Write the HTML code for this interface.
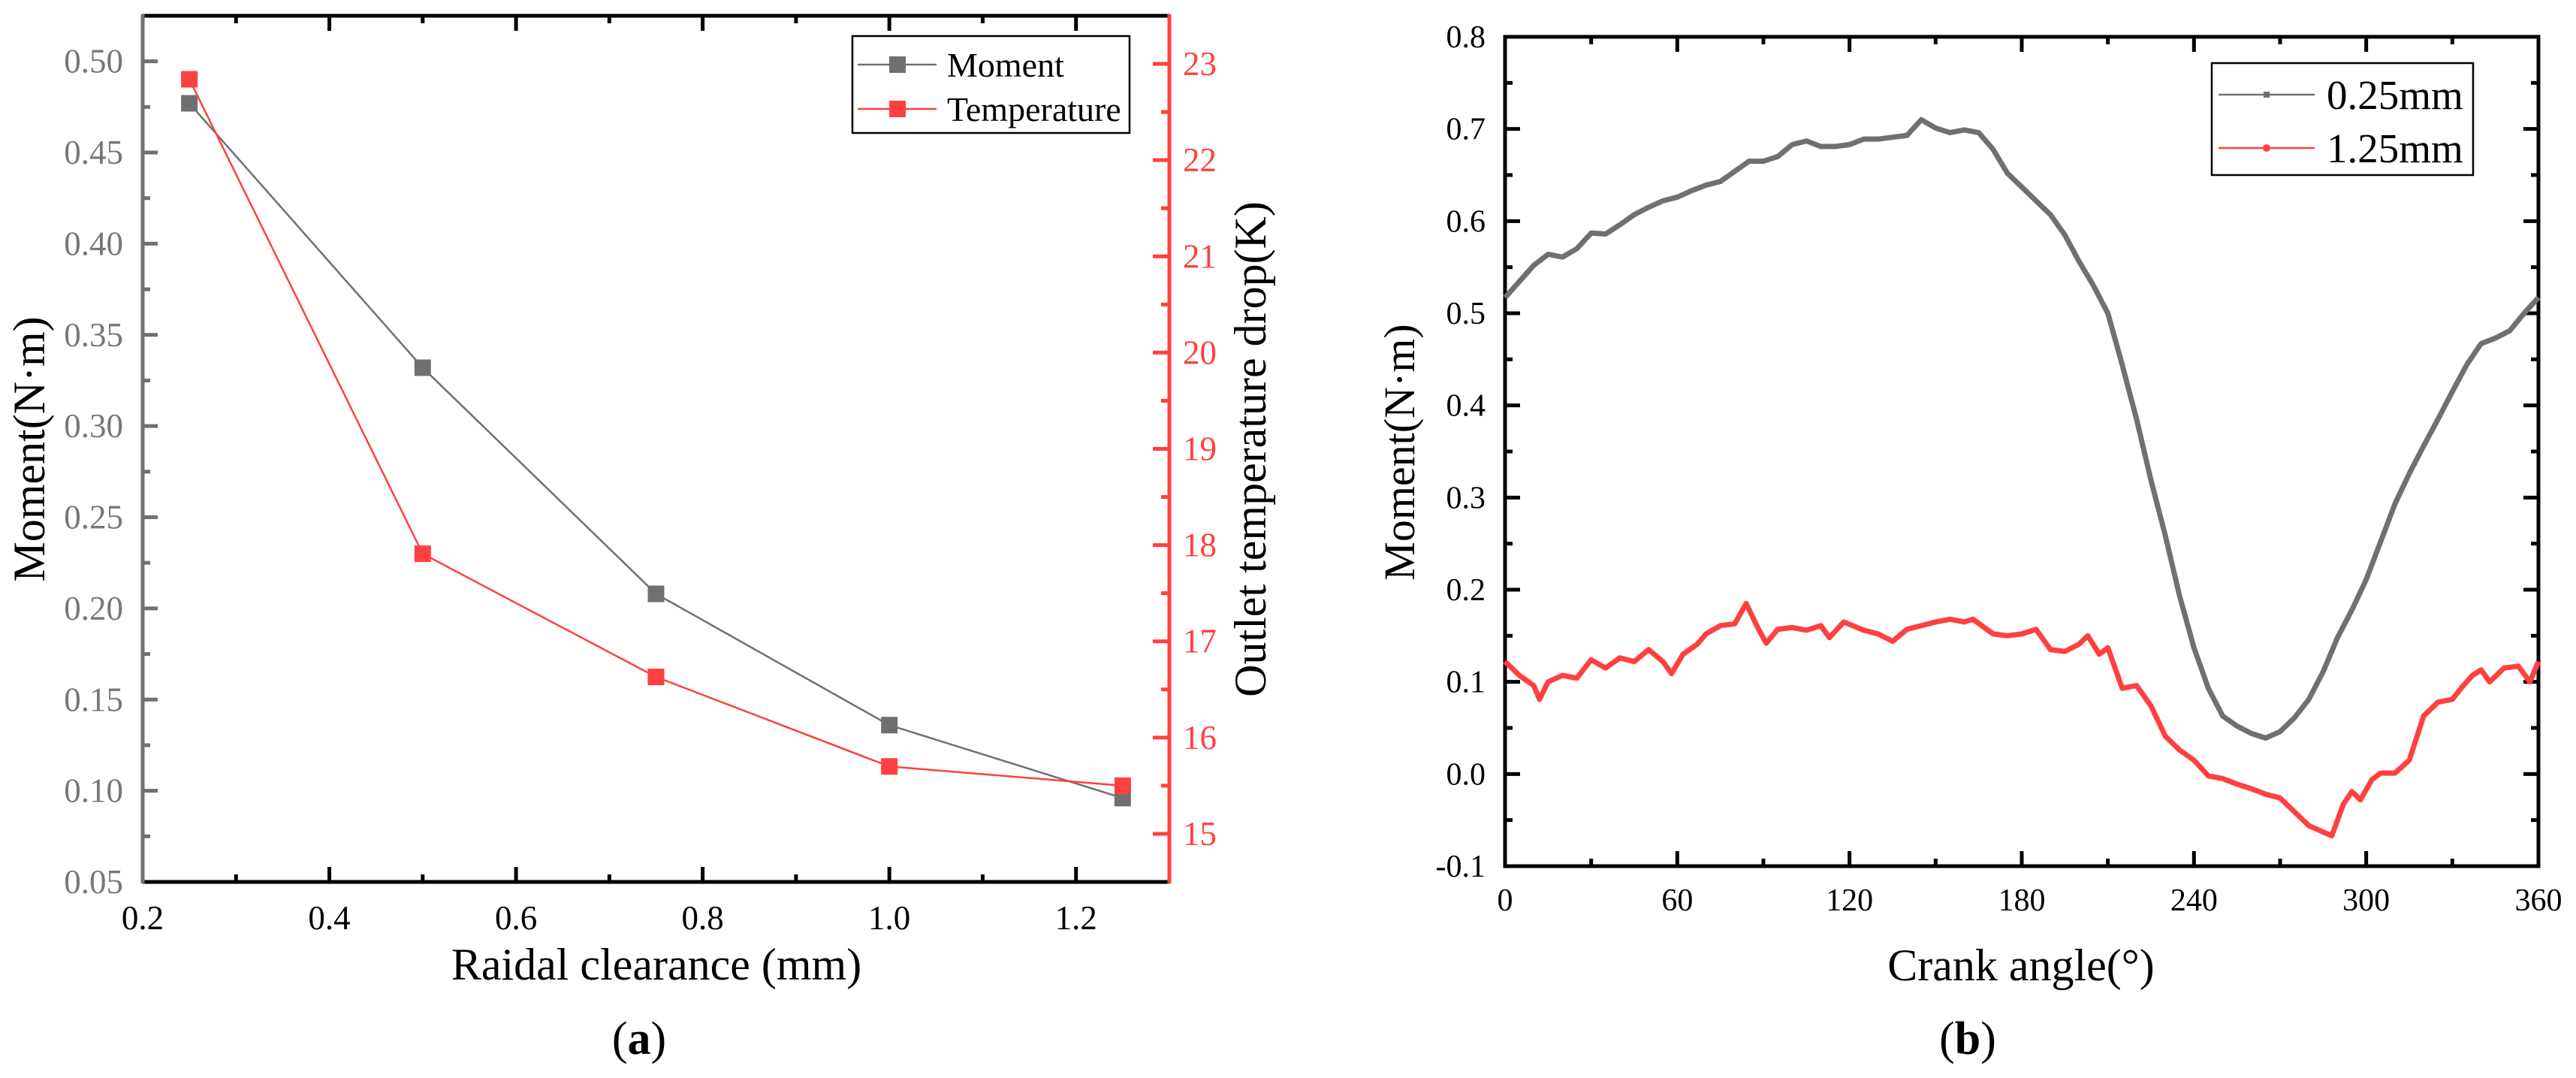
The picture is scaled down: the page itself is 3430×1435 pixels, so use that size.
<!DOCTYPE html>
<html><head><meta charset="utf-8">
<style>
html,body{margin:0;padding:0;background:#fff;}
svg, svg text, svg tspan{font-family:"Liberation Serif","Times New Roman",serif;}
</style></head>
<body>
<svg id="svg" width="3430" height="1430" viewBox="0 0 3430 1430" xmlns="http://www.w3.org/2000/svg" font-family="Liberation Serif, serif">
<rect width="3430" height="1430" fill="#fff"/>
<g id="chartA" font-family="Liberation Serif, serif"></g>
<g id="chartB" font-family="Liberation Serif, serif"></g>
</svg>
<script>
// ---- Chart (a) data ----
const clearances = [0.25, 0.5, 0.75, 1.0, 1.25];
const momentVals = [0.477, 0.332, 0.208, 0.136, 0.096];
const tempVals = [22.84, 17.91, 16.63, 15.70, 15.50];
const aXTicks = ["0.2","0.4","0.6","0.8","1.0","1.2"];
const aYTicks = ["0.05","0.10","0.15","0.20","0.25","0.30","0.35","0.40","0.45","0.50"];
const aY2Ticks = ["15","16","17","18","19","20","21","22","23"];
// ---- Chart (b) data ----
const angles025 = [0,10,15,20,25,30,35,40,45,50,55,60,65,70,75,80,85,90,95,100,105,110,115,120,125,130,135,140,145,150,155,160,165,170,175,180,185,190,195,200,205,210,215,220,225,230,235,240,245,250,255,260,265,270,275,280,285,290,295,300,305,310,315,320,325,330,335,340,345,350,355,360];
const moment025 = [0.517,0.552,0.564,0.561,0.570,0.587,0.586,0.596,0.607,0.615,0.622,0.626,0.633,0.639,0.643,0.654,0.665,0.665,0.670,0.683,0.687,0.681,0.681,0.683,0.689,0.689,0.691,0.693,0.710,0.701,0.696,0.699,0.696,0.678,0.652,0.637,0.622,0.607,0.585,0.556,0.530,0.500,0.444,0.385,0.319,0.259,0.193,0.137,0.093,0.063,0.052,0.044,0.039,0.046,0.061,0.081,0.111,0.148,0.178,0.211,0.252,0.293,0.326,0.356,0.385,0.415,0.444,0.467,0.473,0.481,0.500,0.517];
const angles125 = [0,5,10,12,15,20,25,30,35,40,45,50,55,58,62,67,70,75,80,84,88,91,95,100,105,110,113,118,125,130,135,140,145,150,155,160,163,170,175,180,185,190,195,200,203,207,210,215,220,225,230,235,240,245,250,255,260,265,270,275,280,285,288,292,295,298,302,305,310,315,320,325,330,333,337,340,343,348,353,357,360];
const moment125 = [0.122,0.107,0.096,0.081,0.100,0.107,0.104,0.124,0.115,0.126,0.122,0.135,0.122,0.109,0.130,0.141,0.152,0.161,0.163,0.185,0.159,0.142,0.157,0.159,0.156,0.161,0.148,0.165,0.156,0.152,0.144,0.157,0.161,0.165,0.168,0.165,0.168,0.152,0.150,0.152,0.157,0.135,0.133,0.141,0.150,0.130,0.137,0.093,0.096,0.074,0.041,0.026,0.015,-0.002,-0.005,-0.011,-0.016,-0.022,-0.026,-0.041,-0.056,-0.063,-0.067,-0.033,-0.019,-0.028,-0.006,0.001,0.001,0.015,0.063,0.078,0.081,0.093,0.107,0.113,0.100,0.115,0.117,0.100,0.122];
const bXTicks = ["0","60","120","180","240","300","360"];
const bYTicks = ["-0.1","0.0","0.1","0.2","0.3","0.4","0.5","0.6","0.7","0.8"];

const NS="http://www.w3.org/2000/svg";
function mk(parent,tag,attrs,text){const e=document.createElementNS(NS,tag);for(const k in attrs)e.setAttribute(k,attrs[k]);if(text!==undefined)e.textContent=text;parent.appendChild(e);return e;}

// ================= Chart A =================
(function(){
const g=document.getElementById('chartA');
const L=190,R=1557,T=21,B=1174;
const xS=v=>L+(v-0.2)/(1.3-0.2)*(R-L);
const yS=v=>B-(v-0.05)/(0.525-0.05)*(B-T);
const y2S=v=>B-(v-14.5)/(23.5-14.5)*(B-T);
const gray="#707070",red="#ff4040";
for(let v=0.2;v<=1.3001;v+=0.1){
  const x=xS(v);const major=Math.round(v*10)%2===0;const len=major?20:10;
  let t=mk(g,'line',{x1:x,y1:B,x2:x,y2:B-len,stroke:'#000','stroke-width':5});
  
  t=mk(g,'line',{x1:x,y1:T,x2:x,y2:T+len,stroke:'#000','stroke-width':5});
  
}
aXTicks.forEach(s=>{const t=mk(g,'text',{x:xS(parseFloat(s)),y:1237,'font-size':45,'text-anchor':'middle',fill:'#000'},s);
  });
for(let i=0;i<=19;i++){const v=0.05+i*0.025;if(v>0.526)break;const y=yS(v);const major=i%2===0;
  const t=mk(g,'line',{x1:L,y1:y,x2:L+(major?20:10),y2:y,stroke:gray,'stroke-width':5});
  }
aYTicks.forEach(s=>{const t=mk(g,'text',{x:164,y:yS(parseFloat(s))+15,'font-size':45,'text-anchor':'end',fill:'#777'},s);
  });
for(let v=14.5;v<=23.5001;v+=0.5){const y=y2S(v);const major=Math.abs(v-Math.round(v))<0.01;
  const t=mk(g,'line',{x1:R,y1:y,x2:R-(major?22:11),y2:y,stroke:red,'stroke-width':5});
  }
aY2Ticks.forEach(s=>{const t=mk(g,'text',{x:1575,y:y2S(parseFloat(s))+15,'font-size':45,'text-anchor':'start',fill:red},s);
  });
mk(g,'line',{x1:L,y1:T,x2:R,y2:T,stroke:'#000','stroke-width':5,});
mk(g,'line',{x1:L,y1:B,x2:R,y2:B,stroke:'#000','stroke-width':5,});
mk(g,'line',{x1:L,y1:T-2,x2:L,y2:B+2,stroke:gray,'stroke-width':5,});
mk(g,'line',{x1:R,y1:T-2,x2:R,y2:B+2,stroke:red,'stroke-width':5,});
const mp=clearances.map((c,i)=>xS(c)+','+yS(momentVals[i])).join(' ');
mk(g,'polyline',{points:mp,fill:'none',stroke:gray,'stroke-width':2.5,});
const tp=clearances.map((c,i)=>xS(c)+','+y2S(tempVals[i])).join(' ');
mk(g,'polyline',{points:tp,fill:'none',stroke:red,'stroke-width':2.5,});
clearances.forEach((c,i)=>{
  const m=mk(g,'rect',{x:xS(c)-11,y:yS(momentVals[i])-11,width:22,height:22,fill:gray});
  
  const r=mk(g,'rect',{x:xS(c)-11,y:y2S(tempVals[i])-11,width:22,height:22,fill:red});
  
});
const lg=mk(g,'g',{});
mk(lg,'rect',{x:1135,y:48,width:369,height:129,fill:'#fff',stroke:'#000','stroke-width':2.5,});
const e1=mk(lg,'g',{});
mk(e1,'line',{x1:1142,y1:86,x2:1247,y2:86,stroke:gray,'stroke-width':2.5});
mk(e1,'rect',{x:1184,y:75,width:22,height:22,fill:gray});
mk(e1,'text',{x:1261,y:102,'font-size':46,fill:'#000'},'Moment');
const e2=mk(lg,'g',{});
mk(e2,'line',{x1:1142,y1:145,x2:1247,y2:145,stroke:red,'stroke-width':2.5});
mk(e2,'rect',{x:1184,y:134,width:22,height:22,fill:red});
mk(e2,'text',{x:1261,y:161,'font-size':46,fill:'#000'},'Temperature');
mk(g,'text',{x:874,y:1304,'font-size':60,'text-anchor':'middle',fill:'#000',},'Raidal clearance (mm)');
mk(g,'text',{x:0,y:0,'font-size':60,'text-anchor':'middle',fill:'#000',transform:'translate(59,598) rotate(-90)',},'Moment(N·m)');
mk(g,'text',{x:0,y:0,'font-size':60,'text-anchor':'middle',fill:'#000',transform:'translate(1685,598) rotate(-90)',},'Outlet temperature drop(K)');
const la=mk(g,'text',{x:851,y:1403,'font-size':62,'text-anchor':'middle',fill:'#000',},'(');
mk(la,'tspan',{'font-weight':'bold'},'a');mk(la,'tspan',{},')');
})();

// ================= Chart B =================
(function(){
const g=document.getElementById('chartB');
const L=2004,R=3380,T=49,B=1153;
const xS=v=>L+v/360*(R-L);
const yS=v=>B-(v+0.1)/0.9*(B-T);
const gray="#707070",red="#ff4040";
for(let v=0;v<=360;v+=30){const x=xS(v);const len=v%60===0?20:10;
  let t=mk(g,'line',{x1:x,y1:B,x2:x,y2:B-len,stroke:'#000','stroke-width':5});
  
  t=mk(g,'line',{x1:x,y1:T,x2:x,y2:T+len,stroke:'#000','stroke-width':5});
  }
bXTicks.forEach(s=>{const t=mk(g,'text',{x:xS(parseFloat(s)),y:1212,'font-size':42,'text-anchor':'middle',fill:'#000'},s);
  });
for(let i=0;i<=18;i++){const v=-0.1+i*0.05;const y=yS(v);const len=i%2===0?20:10;
  let t=mk(g,'line',{x1:L,y1:y,x2:L+len,y2:y,stroke:'#000','stroke-width':5});
  
  t=mk(g,'line',{x1:R,y1:y,x2:R-len,y2:y,stroke:'#000','stroke-width':5});
  }
bYTicks.forEach(s=>{const t=mk(g,'text',{x:1978,y:yS(parseFloat(s))+14,'font-size':42,'text-anchor':'end',fill:'#000'},s);
  });
mk(g,'rect',{x:L,y:T,width:R-L,height:B-T,fill:'none',stroke:'#000','stroke-width':5,});
const p1=angles025.map((a,i)=>xS(a)+','+yS(moment025[i])).join(' ');
mk(g,'polyline',{points:p1,fill:'none',stroke:gray,'stroke-width':7,'stroke-linejoin':'round',});
const p2=angles125.map((a,i)=>xS(a)+','+yS(moment125[i])).join(' ');
mk(g,'polyline',{points:p2,fill:'none',stroke:red,'stroke-width':7,'stroke-linejoin':'round',});
const lg=mk(g,'g',{});
mk(lg,'rect',{x:2945,y:84,width:348,height:149,fill:'#fff',stroke:'#000','stroke-width':2.5,});
const e1=mk(lg,'g',{});
mk(e1,'line',{x1:2954,y1:126,x2:3082,y2:126,stroke:gray,'stroke-width':2.5});
mk(e1,'rect',{x:3014,y:122,width:8,height:8,fill:gray});
mk(e1,'text',{x:3098,y:145,'font-size':55,fill:'#000'},'0.25mm');
const e2=mk(lg,'g',{});
mk(e2,'line',{x1:2954,y1:197,x2:3082,y2:197,stroke:red,'stroke-width':2.5});
mk(e2,'circle',{cx:3018,cy:197,r:5,fill:red});
mk(e2,'text',{x:3098,y:216,'font-size':55,fill:'#000'},'1.25mm');
mk(g,'text',{x:2691,y:1305,'font-size':60,'text-anchor':'middle',fill:'#000',},'Crank angle(°)');
mk(g,'text',{x:0,y:0,'font-size':58,'text-anchor':'middle',fill:'#000',transform:'translate(1883,602) rotate(-90)',},'Moment(N·m)');
const lb=mk(g,'text',{x:2620,y:1403,'font-size':62,'text-anchor':'middle',fill:'#000',},'(');
mk(lb,'tspan',{'font-weight':'bold'},'b');mk(lb,'tspan',{},')');
})();
</script>
</body></html>
